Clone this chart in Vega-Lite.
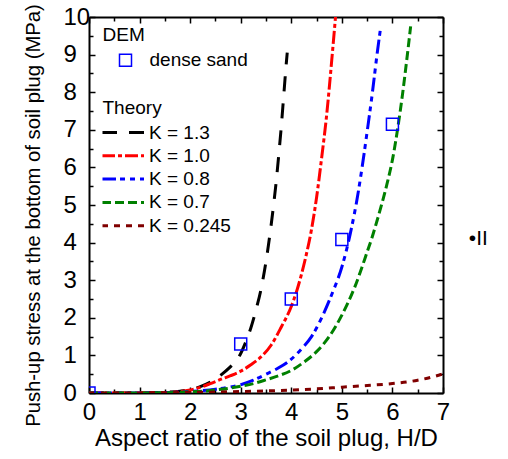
{
  "$schema": "https://vega.github.io/schema/vega-lite/v6.json",
  "width": 354,
  "height": 376,
  "autosize": {"type": "none"},
  "padding": {"left": 89, "top": 17, "right": 65, "bottom": 66},
  "config": {
    "font": "Liberation Sans",
    "view": {"stroke": null},
    "axis": {
      "grid": false,
      "domainColor": "#000000",
      "domainWidth": 2,
      "tickColor": "#000000",
      "tickWidth": 1.5,
      "labelColor": "#000000",
      "titleColor": "#000000",
      "labelFontSize": 24,
      "titleFontWeight": "normal"
    },
    "legend": {
      "labelColor": "#000000",
      "titleColor": "#000000",
      "labelFontSize": 19,
      "titleFontSize": 19,
      "titleFontWeight": "normal",
      "padding": 0
    }
  },
  "layer": [
    {
      "data": {
        "values": [
          {"x": 0, "y": 0, "K": "K = 1.3"}, {"x": 0.5, "y": 0, "K": "K = 1.3"}, {"x": 1, "y": 0.005, "K": "K = 1.3"}, {"x": 1.5, "y": 0.02, "K": "K = 1.3"}, {"x": 1.8, "y": 0.05, "K": "K = 1.3"}, {"x": 2.0, "y": 0.09, "K": "K = 1.3"}, {"x": 2.2, "y": 0.17, "K": "K = 1.3"}, {"x": 2.4, "y": 0.29, "K": "K = 1.3"}, {"x": 2.6, "y": 0.47, "K": "K = 1.3"}, {"x": 2.8, "y": 0.7, "K": "K = 1.3"}, {"x": 2.9, "y": 0.84, "K": "K = 1.3"}, {"x": 3.0, "y": 1.05, "K": "K = 1.3"}, {"x": 3.1, "y": 1.36, "K": "K = 1.3"}, {"x": 3.2, "y": 1.73, "K": "K = 1.3"}, {"x": 3.3, "y": 2.2, "K": "K = 1.3"}, {"x": 3.4, "y": 2.75, "K": "K = 1.3"}, {"x": 3.5, "y": 3.5, "K": "K = 1.3"}, {"x": 3.55, "y": 3.95, "K": "K = 1.3"}, {"x": 3.6, "y": 4.45, "K": "K = 1.3"}, {"x": 3.65, "y": 5.0, "K": "K = 1.3"}, {"x": 3.7, "y": 5.6, "K": "K = 1.3"}, {"x": 3.75, "y": 6.3, "K": "K = 1.3"}, {"x": 3.8, "y": 7.05, "K": "K = 1.3"}, {"x": 3.85, "y": 7.9, "K": "K = 1.3"}, {"x": 3.9, "y": 8.75, "K": "K = 1.3"}, {"x": 3.92, "y": 9.05, "K": "K = 1.3"},
          {"x": 0, "y": 0, "K": "K = 1.0"}, {"x": 1, "y": 0.003, "K": "K = 1.0"}, {"x": 1.5, "y": 0.015, "K": "K = 1.0"}, {"x": 2.0, "y": 0.08, "K": "K = 1.0"}, {"x": 2.2, "y": 0.15, "K": "K = 1.0"}, {"x": 2.4, "y": 0.25, "K": "K = 1.0"}, {"x": 2.6, "y": 0.36, "K": "K = 1.0"}, {"x": 2.8, "y": 0.46, "K": "K = 1.0"}, {"x": 3.0, "y": 0.58, "K": "K = 1.0"}, {"x": 3.2, "y": 0.75, "K": "K = 1.0"}, {"x": 3.4, "y": 0.96, "K": "K = 1.0"}, {"x": 3.6, "y": 1.27, "K": "K = 1.0"}, {"x": 3.8, "y": 1.75, "K": "K = 1.0"}, {"x": 4.0, "y": 2.3, "K": "K = 1.0"}, {"x": 4.1, "y": 2.68, "K": "K = 1.0"}, {"x": 4.2, "y": 3.15, "K": "K = 1.0"}, {"x": 4.3, "y": 3.7, "K": "K = 1.0"}, {"x": 4.4, "y": 4.35, "K": "K = 1.0"}, {"x": 4.5, "y": 5.2, "K": "K = 1.0"}, {"x": 4.6, "y": 6.25, "K": "K = 1.0"}, {"x": 4.7, "y": 7.4, "K": "K = 1.0"}, {"x": 4.8, "y": 8.85, "K": "K = 1.0"}, {"x": 4.9, "y": 10.4, "K": "K = 1.0"},
          {"x": 0, "y": 0, "K": "K = 0.8"}, {"x": 1, "y": 0.002, "K": "K = 0.8"}, {"x": 1.5, "y": 0.01, "K": "K = 0.8"}, {"x": 2.0, "y": 0.04, "K": "K = 0.8"}, {"x": 2.5, "y": 0.1, "K": "K = 0.8"}, {"x": 2.75, "y": 0.15, "K": "K = 0.8"}, {"x": 3.0, "y": 0.22, "K": "K = 0.8"}, {"x": 3.25, "y": 0.34, "K": "K = 0.8"}, {"x": 3.5, "y": 0.5, "K": "K = 0.8"}, {"x": 3.75, "y": 0.67, "K": "K = 0.8"}, {"x": 4.0, "y": 0.9, "K": "K = 0.8"}, {"x": 4.2, "y": 1.17, "K": "K = 0.8"}, {"x": 4.4, "y": 1.5, "K": "K = 0.8"}, {"x": 4.6, "y": 2.0, "K": "K = 0.8"}, {"x": 4.8, "y": 2.62, "K": "K = 0.8"}, {"x": 5.0, "y": 3.35, "K": "K = 0.8"}, {"x": 5.1, "y": 3.85, "K": "K = 0.8"}, {"x": 5.2, "y": 4.45, "K": "K = 0.8"}, {"x": 5.3, "y": 5.15, "K": "K = 0.8"}, {"x": 5.4, "y": 6.0, "K": "K = 0.8"}, {"x": 5.5, "y": 6.95, "K": "K = 0.8"}, {"x": 5.6, "y": 7.95, "K": "K = 0.8"}, {"x": 5.7, "y": 9.05, "K": "K = 0.8"}, {"x": 5.77, "y": 9.75, "K": "K = 0.8"},
          {"x": 0, "y": 0, "K": "K = 0.7"}, {"x": 1, "y": 0.002, "K": "K = 0.7"}, {"x": 1.5, "y": 0.008, "K": "K = 0.7"}, {"x": 2.0, "y": 0.03, "K": "K = 0.7"}, {"x": 2.5, "y": 0.08, "K": "K = 0.7"}, {"x": 3.0, "y": 0.18, "K": "K = 0.7"}, {"x": 3.25, "y": 0.25, "K": "K = 0.7"}, {"x": 3.5, "y": 0.35, "K": "K = 0.7"}, {"x": 3.75, "y": 0.46, "K": "K = 0.7"}, {"x": 4.0, "y": 0.6, "K": "K = 0.7"}, {"x": 4.25, "y": 0.82, "K": "K = 0.7"}, {"x": 4.5, "y": 1.1, "K": "K = 0.7"}, {"x": 4.75, "y": 1.5, "K": "K = 0.7"}, {"x": 5.0, "y": 2.07, "K": "K = 0.7"}, {"x": 5.25, "y": 2.8, "K": "K = 0.7"}, {"x": 5.5, "y": 3.75, "K": "K = 0.7"}, {"x": 5.6, "y": 4.15, "K": "K = 0.7"}, {"x": 5.7, "y": 4.6, "K": "K = 0.7"}, {"x": 5.8, "y": 5.08, "K": "K = 0.7"}, {"x": 5.9, "y": 5.6, "K": "K = 0.7"}, {"x": 6.0, "y": 6.2, "K": "K = 0.7"}, {"x": 6.1, "y": 7.0, "K": "K = 0.7"}, {"x": 6.2, "y": 7.95, "K": "K = 0.7"}, {"x": 6.3, "y": 9.05, "K": "K = 0.7"}, {"x": 6.36, "y": 9.75, "K": "K = 0.7"},
          {"x": 0, "y": 0, "K": "K = 0.245"}, {"x": 1, "y": 0.003, "K": "K = 0.245"}, {"x": 2, "y": 0.015, "K": "K = 0.245"}, {"x": 2.5, "y": 0.025, "K": "K = 0.245"}, {"x": 3, "y": 0.04, "K": "K = 0.245"}, {"x": 3.5, "y": 0.055, "K": "K = 0.245"}, {"x": 4, "y": 0.08, "K": "K = 0.245"}, {"x": 4.5, "y": 0.11, "K": "K = 0.245"}, {"x": 5, "y": 0.155, "K": "K = 0.245"}, {"x": 5.5, "y": 0.2, "K": "K = 0.245"}, {"x": 6, "y": 0.25, "K": "K = 0.245"}, {"x": 6.5, "y": 0.34, "K": "K = 0.245"}, {"x": 6.8, "y": 0.43, "K": "K = 0.245"}, {"x": 7, "y": 0.51, "K": "K = 0.245"}
        ]
      },
      "mark": {"type": "line", "strokeWidth": 3, "clip": true, "interpolate": "monotone"},
      "encoding": {
        "x": {
          "field": "x", "type": "quantitative",
          "scale": {"domain": [0, 7], "nice": false, "zero": false},
          "axis": {
            "orient": "bottom",
            "values": [0, 0.5, 1, 1.5, 2, 2.5, 3, 3.5, 4, 4.5, 5, 5.5, 6, 6.5, 7],
            "labelExpr": "datum.value % 1 === 0 ? format(datum.value, 'd') : ''",
            "tickSize": {"condition": {"test": "datum.value % 1 === 0", "value": -6}, "value": -4},
            "labelPadding": 13,
            "labelFlush": false,
            "title": "Aspect ratio of the soil plug, H/D",
            "titleFontSize": 24,
            "titlePadding": 2
          }
        },
        "y": {
          "field": "y", "type": "quantitative",
          "scale": {"domain": [0, 10], "nice": false},
          "axis": {
            "orient": "left",
            "values": [0, 0.5, 1, 1.5, 2, 2.5, 3, 3.5, 4, 4.5, 5, 5.5, 6, 6.5, 7, 7.5, 8, 8.5, 9, 9.5, 10],
            "labelExpr": "datum.value % 1 === 0 ? format(datum.value, 'd') : ''",
            "tickSize": {"condition": {"test": "datum.value % 1 === 0", "value": -6}, "value": -4},
            "labelAlign": "left",
            "labelPadding": 32,
            "labelFlush": false,
            "title": "Push-up stress at the bottom of soil plug (MPa)",
            "titleFontSize": 20.3,
            "titlePadding": 20,
            "titleY": 198
          }
        },
        "color": {
          "field": "K", "type": "nominal",
          "scale": {
            "domain": ["K = 1.3", "K = 1.0", "K = 0.8", "K = 0.7", "K = 0.245"],
            "range": ["#000000", "#ff0000", "#0000ff", "#008000", "#800000"]
          },
          "legend": {
            "title": "Theory", "orient": "none", "legendX": 13.5, "legendY": 82,
            "symbolType": "stroke", "symbolSize": 1764, "symbolStrokeWidth": 3,
            "symbolOffset": -2, "labelOffset": 3.5, "clipHeight": 19, "rowPadding": 3.3, "titlePadding": 5
          }
        },
        "strokeDash": {
          "field": "K", "type": "nominal",
          "scale": {
            "domain": ["K = 1.3", "K = 1.0", "K = 0.8", "K = 0.7", "K = 0.245"],
            "range": [[15, 12], [13, 3, 4, 3], [14, 4, 5, 5, 5, 5], [9, 4], [6, 6]]
          },
          "legend": {
            "title": "Theory", "orient": "none", "legendX": 13.5, "legendY": 82,
            "symbolType": "stroke", "symbolSize": 1764, "symbolStrokeWidth": 3,
            "symbolOffset": -2, "labelOffset": 3.5, "clipHeight": 19, "rowPadding": 3.3, "titlePadding": 5
          }
        }
      }
    },
    {
      "data": {
        "values": [
          {"x": 0, "y": 0, "series": "dense sand"},
          {"x": 3, "y": 1.3, "series": "dense sand"},
          {"x": 4, "y": 2.5, "series": "dense sand"},
          {"x": 5, "y": 4.08, "series": "dense sand"},
          {"x": 6, "y": 7.15, "series": "dense sand"}
        ]
      },
      "mark": {"type": "point", "shape": "square", "filled": false, "color": "#0000ff", "strokeWidth": 1.5, "size": 144, "clip": true, "opacity": 1},
      "encoding": {
        "x": {
          "field": "x", "type": "quantitative",
          "scale": {"domain": [0, 7], "nice": false, "zero": false},
          "axis": {
            "orient": "top",
            "values": [0, 0.5, 1, 1.5, 2, 2.5, 3, 3.5, 4, 4.5, 5, 5.5, 6, 6.5, 7],
            "labels": false, "title": null,
            "tickSize": {"condition": {"test": "datum.value % 1 === 0", "value": -6}, "value": -4}
          }
        },
        "y": {
          "field": "y", "type": "quantitative",
          "scale": {"domain": [0, 10], "nice": false},
          "axis": {
            "orient": "right",
            "values": [0, 0.5, 1, 1.5, 2, 2.5, 3, 3.5, 4, 4.5, 5, 5.5, 6, 6.5, 7, 7.5, 8, 8.5, 9, 9.5, 10],
            "labels": false, "title": null,
            "tickSize": {"condition": {"test": "datum.value % 1 === 0", "value": -6}, "value": -4}
          }
        },
        "shape": {
          "field": "series", "type": "nominal",
          "scale": {"domain": ["dense sand"], "range": ["square"]},
          "legend": {
            "title": "DEM", "orient": "none", "legendX": 13.5, "legendY": 9.3,
            "symbolSize": 144, "symbolStrokeWidth": 1.5, "symbolStrokeColor": "#0000ff",
            "symbolFillColor": "transparent", "symbolOffset": 13.5, "labelOffset": 14.5,
            "titlePadding": 5.5
          }
        }
      }
    },
    {
      "data": {"values": [{"x": 7.51, "y": 3.94, "label": "•II"}]},
      "mark": {"type": "text", "align": "left", "baseline": "alphabetic", "fontSize": 21, "color": "#000000", "clip": false},
      "encoding": {
        "x": {"field": "x", "type": "quantitative", "scale": {"domain": [0, 7], "nice": false, "zero": false}, "axis": null},
        "y": {"field": "y", "type": "quantitative", "scale": {"domain": [0, 10], "nice": false}, "axis": null},
        "text": {"field": "label", "type": "nominal"}
      }
    }
  ],
  "resolve": {"axis": {"x": "independent", "y": "independent"}}
}
